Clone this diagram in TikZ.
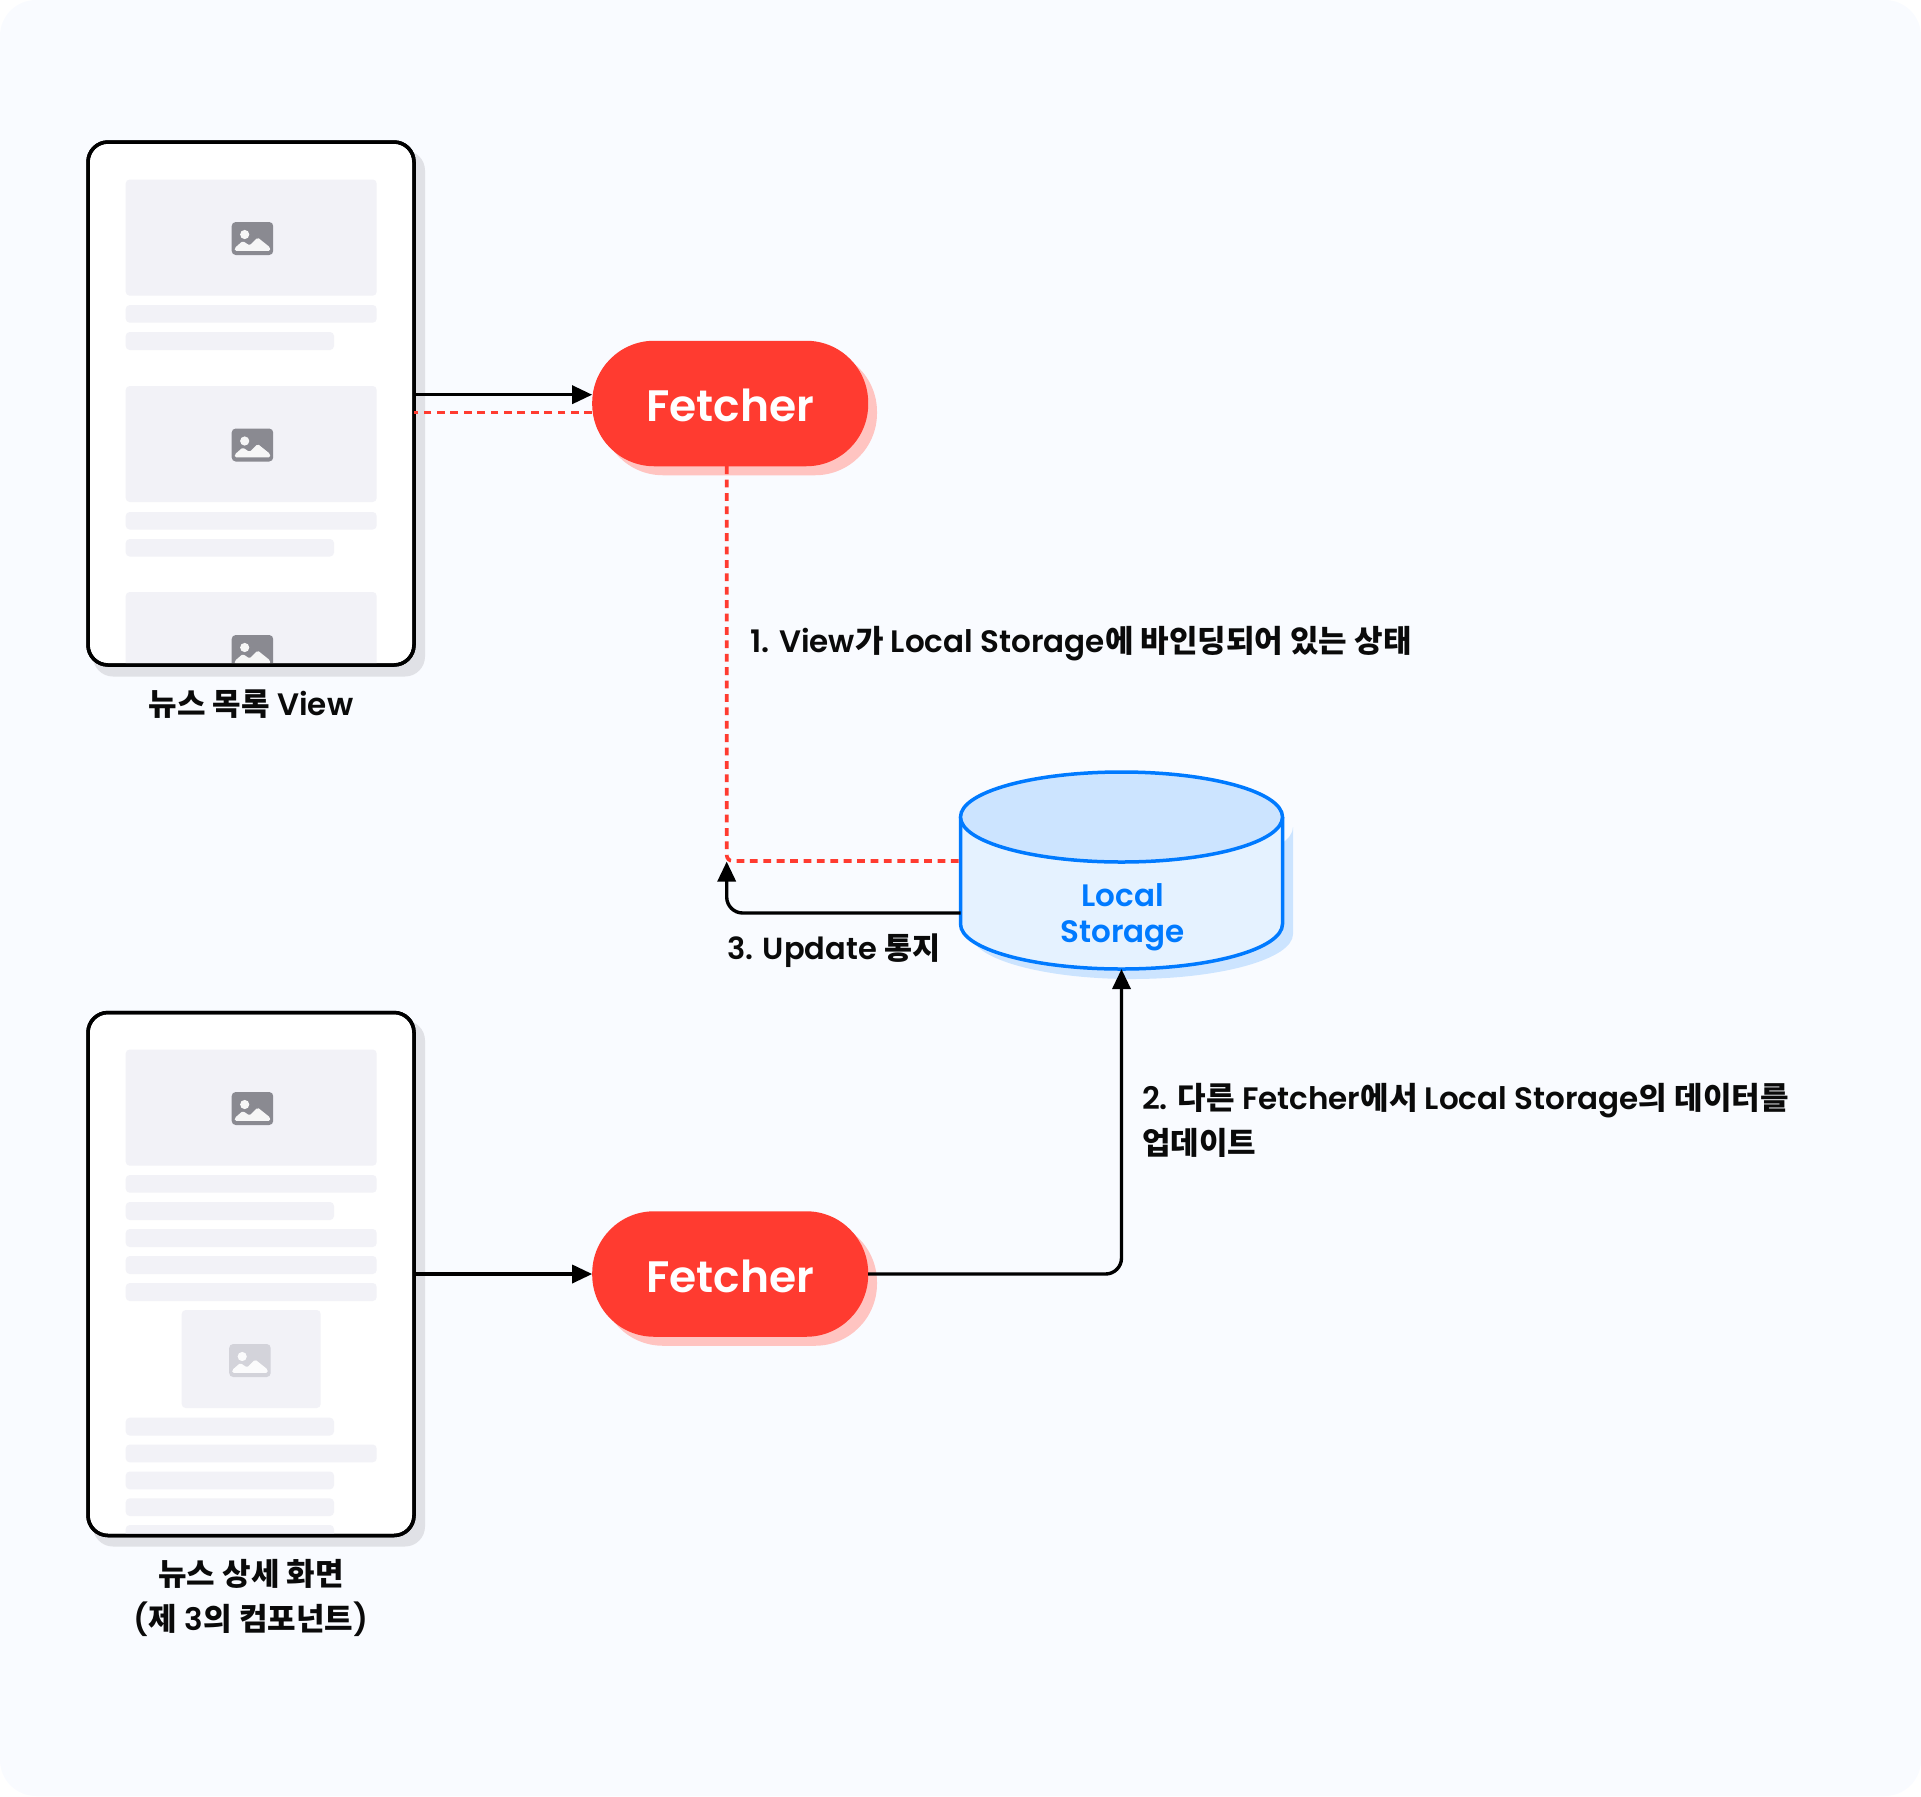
\documentclass[tikz,border=0pt]{standalone}
\usepackage{fontspec}
\setmainfont{Poppins}[BoldFont={Poppins SemiBold}]
\newfontfamily\krfont{Noto Sans CJK KR Medium}
\newcommand{\K}[1]{{\krfont #1}}
\usetikzlibrary{arrows.meta}
\definecolor{bgc}{HTML}{F9FBFF}
\definecolor{blockc}{HTML}{F2F2F7}
\definecolor{frshadow}{HTML}{E0E1E6}
\definecolor{redc}{HTML}{FF3B30}
\definecolor{redsh}{HTML}{FFC4C1}
\definecolor{bluec}{HTML}{007AFF}
\definecolor{bluetop}{HTML}{CCE4FF}
\definecolor{bluebody}{HTML}{E5F2FF}
\definecolor{iconc}{HTML}{8A8A91}
\definecolor{iconl}{HTML}{D3D3DA}
\definecolor{inkc}{HTML}{0A0A0A}
\tikzset{
  x=1pt,y=-1pt,
  blockbox/.style={fill=blockc,rounded corners=4pt},
  framebox/.style={draw=black,line width=3.5pt,fill=white,rounded corners=20pt,minimum width=326pt,minimum height=523pt,inner sep=0pt,outer sep=0pt},
  frameshadow/.style={fill=frshadow,rounded corners=20pt,minimum width=332pt,minimum height=526pt,inner sep=0pt,outer sep=0pt},
  fetcherbox/.style={fill=redc,rounded corners=62pt,minimum width=276pt,minimum height=125.5pt,inner sep=0pt,outer sep=0pt,text=white,font=\fontsize{44}{50}\selectfont\bfseries},
  fetchershadow/.style={fill=redsh,rounded corners=62pt,minimum width=276pt,minimum height=125.5pt,inner sep=0pt,outer sep=0pt},
  link/.style={draw=black,line width=3.4pt,-{Triangle[length=20pt,width=18pt]}},
  bind/.style={draw=redc,line width=3.6pt,dash pattern=on 7.8pt off 5.6pt},
  labeltext/.style={text=inkc,inner sep=0pt,outer sep=0pt,font=\fontsize{31}{44}\selectfont\bfseries},
  storetext/.style={text=bluec,align=center,inner sep=0pt,outer sep=0pt,font=\fontsize{31}{36}\selectfont\bfseries},
}
\newcommand{\imgicon}[3]{% x y colour
  \begin{scope}[shift={(#1,#2)}]
    \fill[#3,rounded corners=4pt] (0,0) rectangle (41.5,33);
    \fill[white!92!#3] (13,12.5) circle (4.6);
    \fill[white!92!#3,rounded corners=1.5pt] (3,28.8) -- (3,26) -- (11,19) -- (18,23.5) -- (26,15.5) -- (38.5,25.5) -- (38.5,28.8) -- cycle;
  \end{scope}}
\begin{document}
\begin{tikzpicture}
\useasboundingbox (0,0) rectangle (1921,1796);
\fill[bgc,rounded corners=36pt] (0,0) rectangle (1921,1796);

% --- list view frame ---
\node[frameshadow] (shadowA) at (259,413.5) {};
\node[framebox] (frameA) at (251,403.5) {};
\begin{scope}
  \clip[rounded corners=18pt] (89.6,143.6) rectangle (412.4,663.4);
  \fill[blockbox] (125.7,179.5) rectangle (376.7,295.7);
  \imgicon{231.7}{222}{iconc}
  \fill[blockbox] (125.7,305) rectangle (376.7,322.7);
  \fill[blockbox] (125.7,332) rectangle (334,350);
  \fill[blockbox] (125.7,386) rectangle (376.7,502);
  \imgicon{231.7}{428.5}{iconc}
  \fill[blockbox] (125.7,512) rectangle (376.7,529.5);
  \fill[blockbox] (125.7,539) rectangle (334,556.5);
  \fill[blockbox] (125.7,592) rectangle (376.7,708);
  \imgicon{231.7}{635}{iconc}
\end{scope}
\draw[black,line width=3.5pt,rounded corners=20pt] (frameA.north west) rectangle (frameA.south east);

% --- detail view frame ---
\node[frameshadow] (shadowB) at (259,1283.5) {};
\node[framebox] (frameB) at (251,1274) {};
\begin{scope}
  \clip[rounded corners=18pt] (89.6,1014) rectangle (412.4,1534);
  \fill[blockbox] (125.7,1049.5) rectangle (376.7,1165.7);
  \imgicon{231.7}{1092}{iconc}
  \fill[blockbox] (125.7,1175) rectangle (376.7,1192.7);
  \fill[blockbox] (125.7,1202) rectangle (334,1220);
  \fill[blockbox] (125.7,1229) rectangle (376.7,1247);
  \fill[blockbox] (125.7,1256) rectangle (376.7,1274);
  \fill[blockbox] (125.7,1283) rectangle (376.7,1301);
  \fill[blockbox] (181.7,1310) rectangle (320.7,1408);
  \imgicon{229.2}{1344}{iconl}
  \fill[blockbox] (125.7,1417.7) rectangle (334,1435.5);
  \fill[blockbox] (125.7,1444.5) rectangle (376.7,1462.3);
  \fill[blockbox] (125.7,1471.5) rectangle (334,1489.3);
  \fill[blockbox] (125.7,1498.3) rectangle (334,1516);
  \fill[blockbox] (125.7,1525) rectangle (334,1560);
\end{scope}
\draw[black,line width=3.5pt,rounded corners=20pt] (frameB.north west) rectangle (frameB.south east);

% --- fetchers ---
\node[fetchershadow] (shadowF) at (739,412.5) {};
\node[fetcherbox] (fetcherA) at (730.2,403.5) {\raisebox{-18pt}[0pt][0pt]{Fetcher}};
\node[fetchershadow] (shadowG) at (739,1283) {};
\node[fetcherbox] (fetcherB) at (730.2,1274) {\raisebox{-18pt}[0pt][0pt]{Fetcher}};

% --- local storage ---
\fill[bluetop] (971,827) -- (971,934) arc[x radius=161,y radius=45,start angle=180,end angle=0] -- (1293,827) arc[x radius=161,y radius=45,start angle=0,end angle=180] -- cycle;
\draw[bluec,line width=3.5pt,fill=bluebody] (960.5,817) -- (960.5,924) arc[x radius=161,y radius=45,start angle=180,end angle=0] -- (1282.5,817);
\draw[bluec,line width=3.5pt,fill=bluetop] (1121.5,817) ellipse[x radius=161,y radius=45];
\node[inner sep=0pt,outer sep=0pt,minimum width=322pt,minimum height=197pt] (storage) at (1121.5,870.5) {};
\node[storetext] (storelabel) at (1122.5,917) {Local\\Storage};

% --- connectors ---
\coordinate (aOut) at (frameA.east |- 0,394.7);
\coordinate (aIn) at (fetcherA.west |- 0,394.7);
\draw[link] (aOut) -- (aIn);
\coordinate (aBack) at (frameA.east |- 0,412.3);
\coordinate (aBackF) at (fetcherA.west |- 0,412.3);
\draw[bind] (aBackF) -- (aBack);
\coordinate (bindTop) at (726.7,466.2);
\coordinate (bindEnd) at (storage.west |- 0,861);
\draw[bind,rounded corners=6pt] (bindTop) -- (726.7,861) -- (bindEnd);
\coordinate (notifyStart) at (storage.west |- 0,913);
\coordinate (notifyTip) at (726.7,861.5);
\draw[link,rounded corners=16pt] (notifyStart) -- (726.7,913) -- (notifyTip);
\draw[link] (frameB.east) -- (fetcherB.west);
\draw[link,rounded corners=16pt] (fetcherB.east) -- (storage.south |- fetcherB.east) -- (storage.south);

% --- labels ---
\node[labeltext,anchor=center] (labelA) at (251,704) {\K{뉴스 목록} View};
\node[labeltext,anchor=center] (labelB) at (251,1574) {\K{뉴스 상세 화면}};
\node[labeltext,anchor=center] (labelC) at (251,1619) {(\K{제} 3\K{의 컴포넌트})};
\node[labeltext,anchor=west] (step1) at (750,644) {1. View\K{가} Local Storage\K{에 바인딩되어 있는 상태}};
\node[labeltext,anchor=west] (step2a) at (1142,1101) {2. \K{다른} Fetcher\K{에서} Local Storage\K{의 데이터를}};
\node[labeltext,anchor=west] (step2b) at (1142,1143) {\K{업데이트}};
\node[labeltext,anchor=west] (step3) at (727,951) {\fontsize{30.5}{44}\selectfont 3. Update \K{통지}};
\end{tikzpicture}
\end{document}
